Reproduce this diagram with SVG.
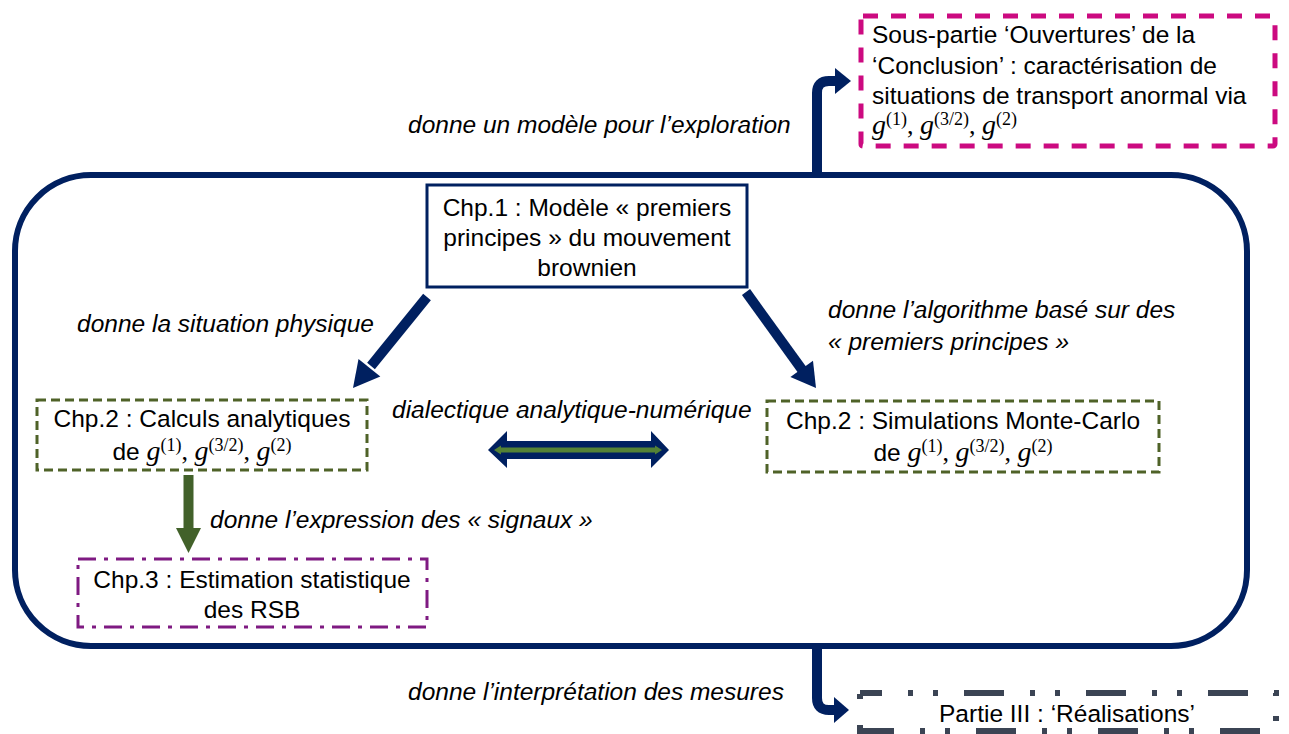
<svg xmlns="http://www.w3.org/2000/svg" width="1289" height="734" viewBox="0 0 1289 734">
<style>
.lbl{font-family:"Liberation Sans",Arial,sans-serif;font-style:italic;font-size:24.5px;fill:#000}
.txt{font-family:"Liberation Sans",Arial,sans-serif;font-size:24.5px;fill:#000}
.mi{font-family:"Liberation Serif","Times New Roman",serif;font-style:italic;font-size:28px}
.sup{font-family:"Liberation Serif","Times New Roman",serif;font-style:normal;font-size:18px}
.mp{font-family:"Liberation Serif","Times New Roman",serif;font-style:normal;font-size:26px}
.navy{fill:#002060}
.conn{fill:none;stroke:#002060;stroke-width:10}
.gbox{fill:#fff;stroke:#4F6228;stroke-width:3;stroke-dasharray:9 5}
</style>
<rect width="1289" height="734" fill="#fff"/>
<g id="frame">
<rect x="15" y="175" width="1232" height="471" rx="76" ry="76" fill="none" stroke="#002060" stroke-width="6"/>
</g>
<g id="connectors">
<path class="conn" d="M817 176 V93 Q817 81 829 81 H838"/>
<polygon class="navy" points="835,68 851,81 835,94"/>
<path class="conn" d="M817 646 V698 Q817 710 829 710 H837"/>
<polygon class="navy" points="834,697 849,710 834,723"/>
<line x1="427" y1="297" x2="371" y2="366" stroke="#002060" stroke-width="10"/>
<polygon class="navy" points="353,388 380.3,376.6 358.5,359"/>
<line x1="746" y1="292" x2="803" y2="371" stroke="#002060" stroke-width="10"/>
<polygon class="navy" points="816,388 813,360.7 790.4,377.1"/>
<rect x="183.5" y="475" width="10" height="56" fill="#42612A"/>
<polygon points="176,528 201,528 188.5,553" fill="#42612A"/>
<polygon class="navy" points="488,450 507,431 507,441 651,441 651,431 669,450 651,468 651,459 507,459 507,468"/>
<polygon points="494,450 501,445.5 501,447.5 655,447.5 655,445.5 662,450 655,454.5 655,452.5 501,452.5 501,454.5" fill="#548235"/>
<text class="lbl" x="408" y="133">donne un modèle pour l’exploration</text>
<text class="lbl" x="77" y="332">donne la situation physique</text>
<text class="lbl" x="828" y="318">donne l’algorithme basé sur des</text>
<text class="lbl" x="828" y="350">« premiers principes »</text>
<text class="lbl" x="392" y="418">dialectique analytique-numérique</text>
<text class="lbl" x="210" y="528">donne l’expression des « signaux »</text>
<text class="lbl" x="408" y="700">donne l’interprétation des mesures</text>
</g>
<g id="chp1">
<rect x="427" y="185" width="320" height="102" fill="#fff" stroke="#002060" stroke-width="3"/>
<text class="txt" text-anchor="middle"><tspan x="587" y="216">Chp.1 : Modèle « premiers</tspan><tspan x="587" y="246">principes » du mouvement</tspan><tspan x="587" y="276">brownien</tspan></text>
</g>
<g id="chp2-analytique">
<rect class="gbox" x="37" y="400" width="330" height="70"/>
<text class="txt" text-anchor="middle" x="202" y="427">Chp.2 : Calculs analytiques</text>
<text class="txt" text-anchor="middle" x="202" y="460">de <tspan class="mi">g</tspan><tspan class="sup" dy="-9">(1)</tspan><tspan class="mp" dy="9">, </tspan><tspan class="mi">g</tspan><tspan class="sup" dy="-9">(3/2)</tspan><tspan class="mp" dy="9">, </tspan><tspan class="mi">g</tspan><tspan class="sup" dy="-9">(2)</tspan></text>
</g>
<g id="chp2-montecarlo">
<rect class="gbox" x="767" y="401" width="392" height="71"/>
<text class="txt" text-anchor="middle" x="963" y="429">Chp.2 : Simulations Monte-Carlo</text>
<text class="txt" text-anchor="middle" x="963" y="461">de <tspan class="mi">g</tspan><tspan class="sup" dy="-9">(1)</tspan><tspan class="mp" dy="9">, </tspan><tspan class="mi">g</tspan><tspan class="sup" dy="-9">(3/2)</tspan><tspan class="mp" dy="9">, </tspan><tspan class="mi">g</tspan><tspan class="sup" dy="-9">(2)</tspan></text>
</g>
<g id="chp3">
<rect x="78" y="559" width="349" height="68" fill="#fff" stroke="#7F1A82" stroke-width="3" stroke-dasharray="18 8 4 8"/>
<text class="txt" text-anchor="middle"><tspan x="252" y="588">Chp.3 : Estimation statistique</tspan><tspan x="252" y="618">des RSB</tspan></text>
</g>
<g id="ouvertures">
<rect x="861" y="16" width="414" height="130" rx="2" fill="#fff" stroke="#CC0A80" stroke-width="5" stroke-dasharray="15 13"/>
<text class="txt"><tspan x="872" y="43">Sous-partie ‘Ouvertures’ de la</tspan><tspan x="872" y="74">‘Conclusion’ : caractérisation de</tspan><tspan x="872" y="104">situations de transport anormal via</tspan></text>
<text class="txt" x="872" y="134"><tspan class="mi">g</tspan><tspan class="sup" dy="-9">(1)</tspan><tspan class="mp" dy="9">, </tspan><tspan class="mi">g</tspan><tspan class="sup" dy="-9">(3/2)</tspan><tspan class="mp" dy="9">, </tspan><tspan class="mi">g</tspan><tspan class="sup" dy="-9">(2)</tspan></text>
</g>
<g id="realisations">
<rect x="860" y="693" width="416" height="38" fill="#fff" stroke="#3B4454" stroke-width="6" stroke-dasharray="40 26 5 20 5 26" stroke-dashoffset="18"/>
<text class="txt" text-anchor="middle" x="1067" y="722">Partie III : ‘Réalisations’</text>
</g>
</svg>
